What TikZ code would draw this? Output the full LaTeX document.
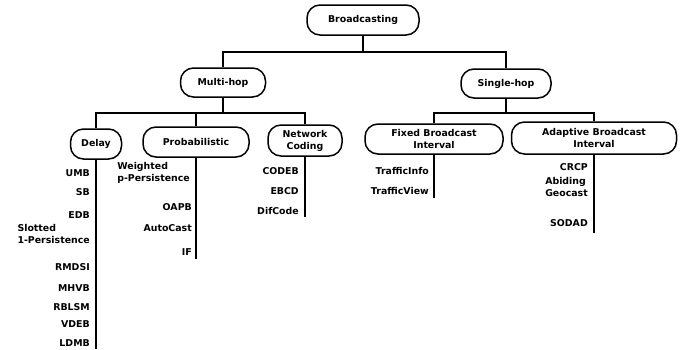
\documentclass[tikz,border=0pt]{standalone}
\usepackage{fontspec}
\setmainfont{DejaVu Sans}
\begin{document}
\begin{tikzpicture}[x=1pt,y=-1pt,
  box/.style={draw,line width=1.5pt,rounded corners=13pt,inner sep=0pt,align=center,
    minimum height=30pt,font=\fontsize{9.4}{12}\selectfont\bfseries},
  lbl/.style={anchor=east,inner sep=0pt,align=left,text height=6.8pt,text depth=0pt,
    font=\fontsize{9.4}{12}\selectfont\bfseries},
  conn/.style={line width=1.5pt}]
\useasboundingbox (0,0) rectangle (680,349);
% main nodes
\node[box,minimum width=112pt] (bc) at (363,20) {Broadcasting};
\node[box,minimum width=85pt,minimum height=29pt] (mh) at (223,82.5) {Multi-hop};
\node[box,minimum width=90pt,minimum height=29pt] (sh) at (506,83.5) {Single-hop};
\node[box,minimum width=51pt] (delay) at (96,144) {Delay};
\node[box,minimum width=106pt] (prob) at (196,142) {Probabilistic};
\node[box,minimum width=74pt,minimum height=31pt] (nc) at (305,140.5) {Network\\Coding};
\node[box,minimum width=138pt] (fbi) at (434,139) {Fixed Broadcast\\Interval};
\node[box,minimum width=165pt,minimum height=32pt] (abi) at (594,138) {Adaptive Broadcast\\Interval};
% tree connectors
\draw[conn] (bc.south) -- (363,52) -| (mh.north);
\draw[conn] (363,52) -| (sh.north);
\draw[conn] (mh.south) -- (223,113) -| (delay.north);
\draw[conn] (223,113) -| (prob.north);
\draw[conn] (223,113) -| (nc.north);
\draw[conn] (sh.south) -- (506,113) -| (fbi.north);
\draw[conn] (506,113) -| (abi.north);
% vertical list lines
\coordinate (delayend) at (96,349);
\coordinate (probend) at (196,259);
\coordinate (ncend) at (305,217);
\coordinate (fbiend) at (434,198);
\coordinate (abiend) at (594,233);
\draw[conn] (delay.south) -- (delayend);
\draw[conn] (prob.south) -- (probend);
\draw[conn] (nc.south) -- (ncend);
\draw[conn] (fbi.south) -- (fbiend);
\draw[conn] (abi.south) -- (abiend);
% Delay list
\node[lbl] (umb) at (90,173) {UMB};
\node[lbl] (sb) at (90,192) {SB};
\node[lbl] (edb) at (90,215) {EDB};
\node[lbl] (s1p) at (90,240) {Slotted\\1-Persistence};
\node[lbl] (rmdsi) at (90,267) {RMDSI};
\node[lbl] (mhvb) at (90,288) {MHVB};
\node[lbl] (rblsm) at (90,307) {RBLSM};
\node[lbl] (vdeb) at (90,324) {VDEB};
\node[lbl] (ldmb) at (90,343) {LDMB};
% Probabilistic list
\node[lbl] (wpp) at (190,178.5) {Weighted\\p-Persistence};
\node[lbl] (oapb) at (192,207) {OAPB};
\node[lbl] (autocast) at (192,228) {AutoCast};
\node[lbl] (if) at (192,252) {IF};
% Network coding list
\node[lbl] (codeb) at (299,171) {CODEB};
\node[lbl] (ebcd) at (299,191) {EBCD};
\node[lbl] (difcode) at (299,211) {DifCode};
% Fixed list
\node[lbl] (tinfo) at (429,171) {TrafficInfo};
\node[lbl] (tview) at (429,191) {TrafficView};
% Adaptive list
\node[lbl] (crcp) at (588,167) {CRCP};
\node[lbl] (ageo) at (588,193.5) {Abiding\\Geocast};
\node[lbl] (sodad) at (588,223) {SODAD};
\end{tikzpicture}
\end{document}
